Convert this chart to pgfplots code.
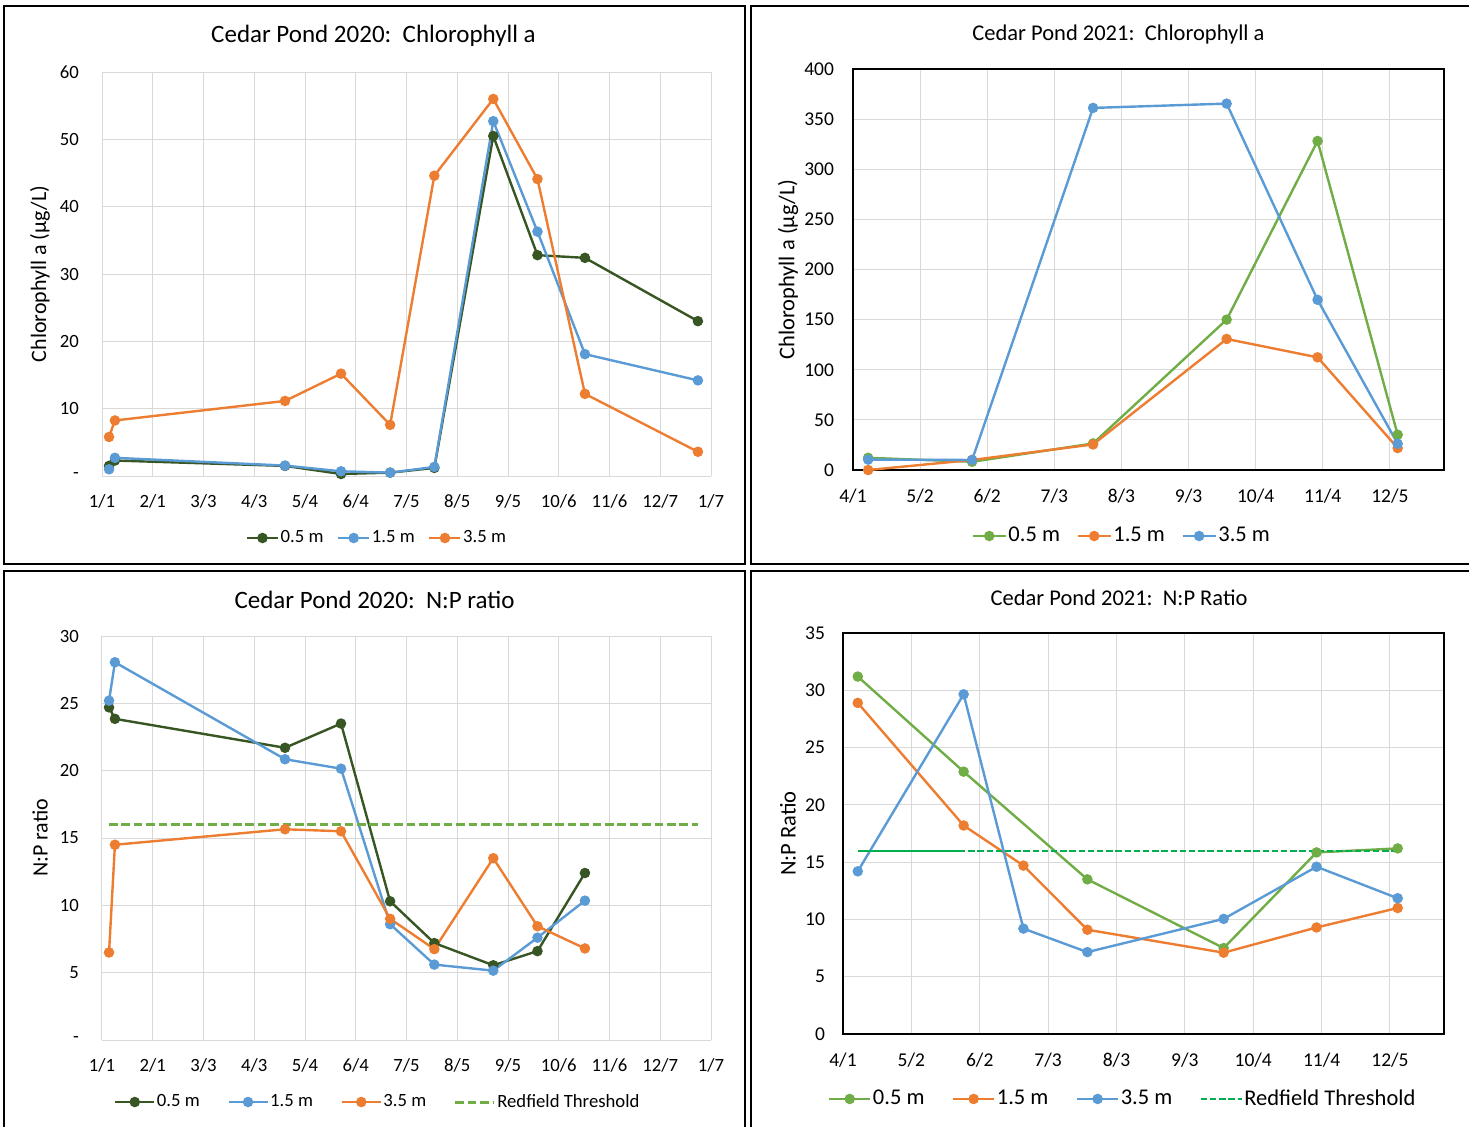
\documentclass[border=0pt]{standalone}
\usepackage{fontspec}
\setmainfont{Carlito}
\usepackage{pgfplots}
\pgfplotsset{compat=1.18}

\definecolor{dkgreen}{HTML}{375623}
\definecolor{xblue}{HTML}{5B9BD5}
\definecolor{xorange}{HTML}{ED7D31}
\definecolor{xgreen}{HTML}{70AD47}
\definecolor{rgreen}{HTML}{00B050}
\definecolor{gridc}{HTML}{D9D9D9}

\pgfplotsset{
  common/.style={scale only axis, clip=false, anchor=south west,
    major tick length=0pt, tick style={draw=none},
    xmajorgrids, ymajorgrids, grid style={draw=gridc, line width=0.5pt},
    legend cell align=left,
    legend style={draw=none, fill=none, anchor=center, legend columns=-1,
      nodes={inner xsep=0.75pt, inner ysep=1pt}},
    /pgf/number format/assume math mode=true},
  leftax/.style={common, axis line style={draw=none},
    tick label style={font=\fontsize{9.35}{11}\selectfont},
    yticklabel style={anchor=east, xshift=-8pt},
    xticklabel style={anchor=base, yshift=-15.5pt},
    ylabel style={font=\fontsize{11}{13}\selectfont, at={(axis description cs:-0.1018,0.5)}, anchor=center},
    legend style={font=\fontsize{9.35}{11}\selectfont}},
  rightax/.style={common, axis line style={draw=black, line width=0.9pt},
    tick label style={font=\fontsize{9.75}{11.5}\selectfont},
    xticklabel style={anchor=base, yshift=-16pt},
    ylabel style={font=\fontsize{11.25}{13}\selectfont, anchor=center},
    legend style={font=\fontsize{11.25}{13}\selectfont}},
  ser/.style={color=#1, line width=1.2pt, mark=*, mark size=2pt, mark options={solid, fill=#1, draw=#1}},
}

\begin{document}
\begin{tikzpicture}
\useasboundingbox (0,0) rectangle (734.5pt,-563pt);
\draw[line width=1pt] (2pt,-3pt) rectangle (372.5pt,-282pt);
\draw[line width=1pt] (375.5pt,-3pt) rectangle (740pt,-282pt);
\draw[line width=1pt] (2pt,-285.5pt) rectangle (372.5pt,-570pt);
\draw[line width=1pt] (375.5pt,-285.5pt) rectangle (740pt,-570pt);

\node[font=\fontsize{12.5}{15}\selectfont] at (186.75pt,-18pt) {Cedar Pond 2020:\ \ Chlorophyll a};
\node[font=\fontsize{11.25}{13}\selectfont] at (559.25pt,-17pt) {Cedar Pond 2021:\ \ Chlorophyll a};
\node[font=\fontsize{12.5}{15}\selectfont] at (187.25pt,-300pt) {Cedar Pond 2020:\ \ N:P ratio};
\node[font=\fontsize{11.25}{13}\selectfont] at (559.5pt,-299pt) {Cedar Pond 2021:\ \ N:P Ratio};

% Panel 1
\begin{axis}[leftax, at={(51pt,-238pt)}, width=304.5pt, height=202pt,
  xmin=0, xmax=372, ymin=0, ymax=60,
  xtick={0,31,62,93,124,155,186,217,248,279,310,341,372},
  xticklabels={1/1,2/1,3/3,4/3,5/4,6/4,7/5,8/5,9/5,10/6,11/6,12/7,1/7},
  ytick={0,10,20,30,40,50,60}, yticklabels={-,10,20,30,40,50,60},
  ylabel={Chlorophyll a (µg/L)},
  legend style={at={(axis description cs:0.451,-0.1535)},
    /tikz/every even column/.append style={column sep=6pt}},
  legend image code/.code={\draw[mark repeat=2,mark phase=2] plot coordinates {(0pt,0pt) (7.75pt,0pt) (15.5pt,0pt)};}]
\addplot[ser=dkgreen] coordinates {(4.3,1.5) (7.9,2.3) (111.8,1.5) (146,0.3) (176,0.5) (203,1.2) (239,50.5) (266,32.8) (295,32.4) (364,23.0)};
\addlegendentry{0.5 m}
\addplot[ser=xblue] coordinates {(4.3,1.0) (7.9,2.7) (111.8,1.55) (146,0.7) (176,0.5) (203,1.35) (239,52.7) (266,36.3) (295,18.1) (364,14.2)};
\addlegendentry{1.5 m}
\addplot[ser=xorange] coordinates {(4.3,5.8) (7.9,8.25) (111.8,11.15) (146,15.2) (176,7.6) (203,44.6) (239,56.0) (266,44.1) (295,12.2) (364,3.6)};
\addlegendentry{3.5 m}
\end{axis}

% Panel 2
\begin{axis}[rightax, at={(426.5pt,-235pt)}, width=295.5pt, height=200.5pt,
  xmin=0, xmax=273, ymin=0, ymax=400,
  xtick={0,31,62,93,124,155,186,217,248},
  xticklabels={4/1,5/2,6/2,7/3,8/3,9/3,10/4,11/4,12/5},
  ytick={0,50,...,400}, yticklabels={0,50,100,150,200,250,300,350,400},
  yticklabel style={anchor=east, xshift=-6pt},
  ylabel={Chlorophyll a (µg/L)},
  ylabel style={at={(axis description cs:-0.11,0.5)}},
  legend style={at={(axis description cs:0.4543,-0.1646)},
    /tikz/every even column/.append style={column sep=7.5pt}},
  legend image code/.code={\draw[mark repeat=2,mark phase=2] plot coordinates {(0pt,0pt) (8.25pt,0pt) (16.5pt,0pt)};}]
\addplot[ser=xgreen] coordinates {(7,12.2) (55,8.2) (110.9,26.5) (172.6,150) (214.6,328.2) (251.6,35.2)};
\addlegendentry{0.5 m}
\addplot[ser=xorange] coordinates {(7,0) (55,10) (110.9,25.5) (172.6,130.7) (214.6,112.4) (251.6,21.9)};
\addlegendentry{1.5 m}
\addplot[ser=xblue] coordinates {(7,10.4) (55,10) (110.9,361.2) (172.6,365.5) (214.6,169.8) (251.6,26.2)};
\addlegendentry{3.5 m}
\end{axis}

% Panel 3
\begin{axis}[leftax, at={(51pt,-520pt)}, width=304.5pt, height=202pt,
  xmin=0, xmax=372, ymin=0, ymax=30,
  xtick={0,31,62,93,124,155,186,217,248,279,310,341,372},
  xticklabels={1/1,2/1,3/3,4/3,5/4,6/4,7/5,8/5,9/5,10/6,11/6,12/7,1/7},
  ytick={0,5,10,15,20,25,30}, yticklabels={-,5,10,15,20,25,30},
  ylabel={N:P ratio},
  legend style={at={(axis description cs:0.4524,-0.1535)},
    /tikz/every even column/.append style={column sep=13pt}},
  legend image code/.code={\draw[mark repeat=2,mark phase=2] plot coordinates {(0pt,0pt) (9.75pt,0pt) (19.5pt,0pt)};}]
\addplot[ser=dkgreen] coordinates {(4.3,24.7) (7.9,23.85) (111.8,21.7) (146,23.5) (176,10.3) (203,7.2) (239,5.55) (266,6.6) (295,12.4)};
\addlegendentry{0.5 m}
\addplot[ser=xblue] coordinates {(4.3,25.2) (7.9,28.05) (111.8,20.85) (146,20.15) (176,8.6) (203,5.6) (239,5.15) (266,7.6) (295,10.35)};
\addlegendentry{1.5 m}
\addplot[ser=xorange] coordinates {(4.3,6.5) (7.9,14.5) (111.8,15.65) (146,15.5) (176,9.0) (203,6.75) (239,13.5) (266,8.45) (295,6.8)};
\addlegendentry{3.5 m}
\addplot[xgreen, line width=1.5pt, dash pattern=on 4.3pt off 1.9pt] coordinates {(4.3,16) (364,16)};
\addlegendentry{Redfield Threshold}
\end{axis}

% Panel 4
\begin{axis}[rightax, at={(421.5pt,-517pt)}, width=300.5pt, height=200.5pt,
  xmin=0, xmax=272.5, ymin=0, ymax=35,
  xtick={0,31,62,93,124,155,186,217,248},
  xticklabels={4/1,5/2,6/2,7/3,8/3,9/3,10/4,11/4,12/5},
  ytick={0,5,...,35}, yticklabels={0,5,10,15,20,25,30,35},
  yticklabel style={anchor=east, xshift=-5.5pt},
  ylabel={N:P Ratio},
  ylabel style={at={(axis description cs:-0.0915,0.5)}},
  legend style={at={(axis description cs:0.465,-0.162)},
    /tikz/every even column/.append style={column sep=13pt}},
  legend image code/.code={\draw[mark repeat=2,mark phase=2] plot coordinates {(0pt,0pt) (10.25pt,0pt) (20.5pt,0pt)};}]
\addplot[ser=xgreen] coordinates {(6.7,31.2) (54.7,22.9) (110.8,13.5) (172.6,7.5) (214.7,15.85) (251.5,16.2)};
\addlegendentry{0.5 m}
\addplot[ser=xorange] coordinates {(6.7,28.9) (54.7,18.2) (81.8,14.7) (110.8,9.1) (172.6,7.1) (214.7,9.3) (251.5,11.0)};
\addlegendentry{1.5 m}
\addplot[ser=xblue] coordinates {(6.7,14.2) (54.7,29.65) (81.8,9.2) (110.8,7.15) (172.6,10.05) (214.7,14.6) (251.5,11.85)};
\addlegendentry{3.5 m}
\addplot[rgreen, line width=1pt, dash pattern=on 3.2pt off 1.4pt] coordinates {(6.7,16) (251.5,16)};
\addlegendentry{Redfield Threshold}
\addplot[forget plot, rgreen, line width=1pt, dash pattern=on 3.2pt off 1.4pt, dash phase=2pt] coordinates {(6.7,16) (54.7,16)};
\end{axis}
\end{tikzpicture}
\end{document}
